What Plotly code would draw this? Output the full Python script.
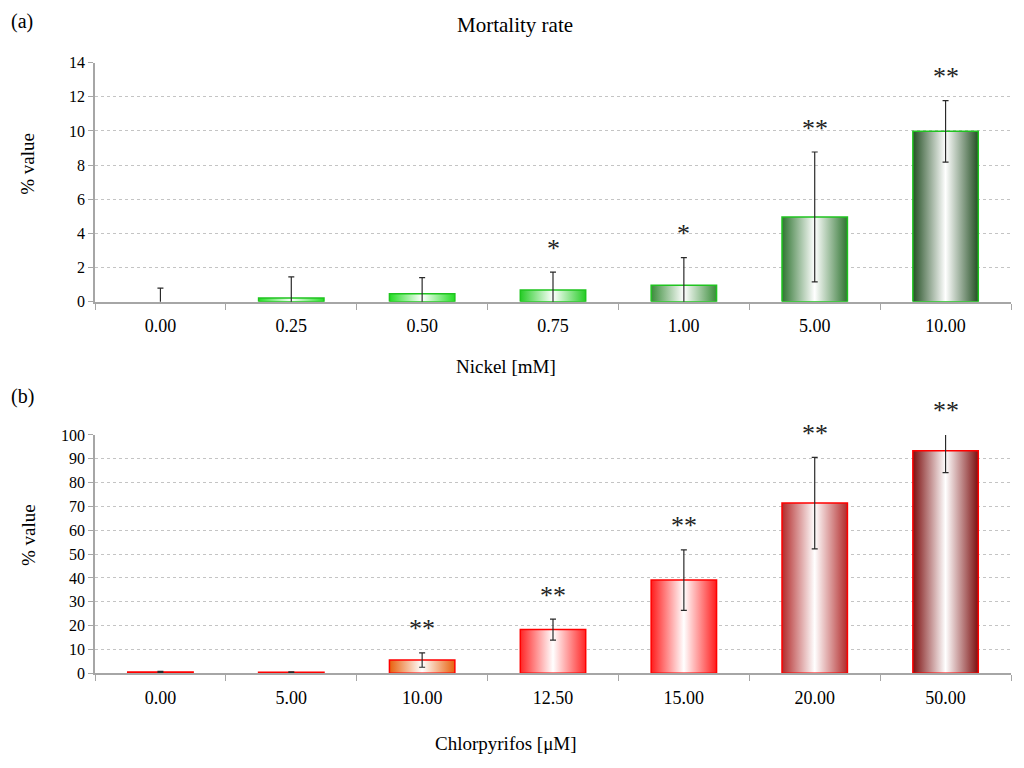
import plotly.graph_objects as go

# (a) nickel
nickel_labels = ["0.00", "0.25", "0.50", "0.75", "1.00", "5.00", "10.00"]
nickel_mean = [0.0, 0.22, 0.47, 0.70, 0.97, 4.97, 9.98]
nickel_err = [0.8, 1.24, 0.95, 1.04, 1.62, 3.8, 1.8]
nickel_stars = ["", "", "", "*", "*", "**", "**"]
nickel_colors = ["#22dd22", "#22dd22", "#22dd22", "#25cc25", "#3a8c3a", "#2f7431", "#244f24"]

# (b) chlorpyrifos
chlor_labels = ["0.00", "5.00", "10.00", "12.50", "15.00", "20.00", "50.00"]
chlor_mean = [0.5, 0.4, 5.5, 18.3, 39.1, 71.4, 93.4]
chlor_err = [0.3, 0.2, 3.0, 4.4, 12.7, 19.2, 9.2]
chlor_stars = ["", "", "**", "**", "**", "**", "**"]
chlor_colors = ["#ff2020", "#ff2020", "#e8600c", "#ff2626", "#ff1c1c", "#b22a2a", "#7c0f0f"]

FONT = "Liberation Serif"
BAR_W = 0.5
GRID = "#c4c4c4"
AXIS = "#a6a6a6"


# the capture squeezes the page a little vertically; map wanted screen rows
# to paper fractions
def py2paper(py):
    return 1 - ((py - 8.4) / 0.977) / 768


fig = go.Figure()


def add_panel(labels, means, errs, stars, colors, edge, ymax, xa, ya):
    for i, (v, c) in enumerate(zip(means, colors)):
        if v <= 0:
            continue
        x0, x1 = i - BAR_W / 2, i + BAR_W / 2
        fig.add_trace(go.Scatter(
            x=[x0, x0, x1, x1, x0], y=[0, v, v, 0, 0],
            mode="lines", fill="toself",
            fillgradient=dict(type="horizontal",
                              colorscale=[[0, c], [0.5, "white"], [1, c]]),
            line=dict(color=edge, width=1.5),
            hoverinfo="skip", xaxis=xa, yaxis=ya))
    fig.add_trace(go.Scatter(
        x=list(range(len(labels))), y=means, mode="markers",
        marker=dict(size=1, opacity=0),
        error_y=dict(type="data", array=errs, color="#2a2a2a",
                     thickness=1.2, width=3),
        xaxis=xa, yaxis=ya))
    for i, s in enumerate(stars):
        if s:
            # annotations outside the axis range get hidden, so clamp
            fig.add_annotation(x=i, y=min(means[i] + errs[i], ymax),
                               xref=xa, yref=ya,
                               text=s, showarrow=False, yanchor="middle",
                               yshift=24, font=dict(family=FONT, size=26,
                                                    color="#222222"))


add_panel(nickel_labels, nickel_mean, nickel_err, nickel_stars, nickel_colors,
          "#1fc41f", 14, "x", "y")
add_panel(chlor_labels, chlor_mean, chlor_err, chlor_stars, chlor_colors,
          "#ff0000", 100, "x2", "y2")


def xaxis_style(labels, anchor):
    n = len(labels)
    return dict(domain=[95 / 1024, 1011 / 1024], range=[-0.5, n - 0.5],
                anchor=anchor, tickvals=list(range(n)), ticktext=labels,
                ticks="", showgrid=False, zeroline=False,
                showline=True, linecolor=AXIS, linewidth=1.5,
                ticklabelstandoff=7,
                tickfont=dict(family=FONT, size=18, color="black"),
                minor=dict(tickvals=[i - 0.5 for i in range(n + 1)],
                           ticks="outside", ticklen=6, tickcolor=AXIS,
                           tickwidth=1.2, showgrid=False))


def yaxis_style(top, bottom, rng, dtick, anchor):
    return dict(domain=[py2paper(bottom), py2paper(top)], range=rng,
                dtick=dtick, anchor=anchor, showgrid=True, gridcolor=GRID,
                griddash="dot", gridwidth=1, zeroline=False,
                showline=True, linecolor=AXIS, linewidth=1.5,
                ticks="outside", ticklen=5, tickcolor=AXIS,
                tickfont=dict(family=FONT, size=16, color="black"))


fig.update_layout(
    width=1024, height=768, margin=dict(l=0, r=0, t=0, b=0),
    paper_bgcolor="white", plot_bgcolor="white", showlegend=False,
    xaxis=xaxis_style(nickel_labels, "y"),
    yaxis=yaxis_style(63, 302, [0, 14], 2, "x"),
    xaxis2=xaxis_style(chlor_labels, "y2"),
    yaxis2=yaxis_style(435, 673, [0, 100], 10, "x2"),
)

texts = [
    ("(a)", 22, 22, 20, 0),
    ("Mortality rate", 515, 25, 21, 0),
    ("Nickel [mM]", 506, 367, 19, 0),
    ("(b)", 22, 397, 20, 0),
    ("Chlorpyrifos [μM]", 506, 743, 19, 0),
    ("% value", 28, 164, 19, -90),
    ("% value", 28, 535, 19, -90),
]
for t, px, py, size, ang in texts:
    fig.add_annotation(x=px / 1024, y=py2paper(py), xref="paper", yref="paper",
                       text=t, showarrow=False, textangle=ang,
                       xanchor="center", yanchor="middle",
                       font=dict(family=FONT, size=size, color="black"))

# pin the figure to the window corner so page margins don't shift it
pin = ("document.body.style.margin='0';"
       "document.body.style.overflow='hidden';"
       "var d=document.getElementById('{plot_id}');"
       "d.style.position='fixed';d.style.left='0';d.style.top='0';")

fig.write_html("out.html", config={"displayModeBar": False}, post_script=pin)
